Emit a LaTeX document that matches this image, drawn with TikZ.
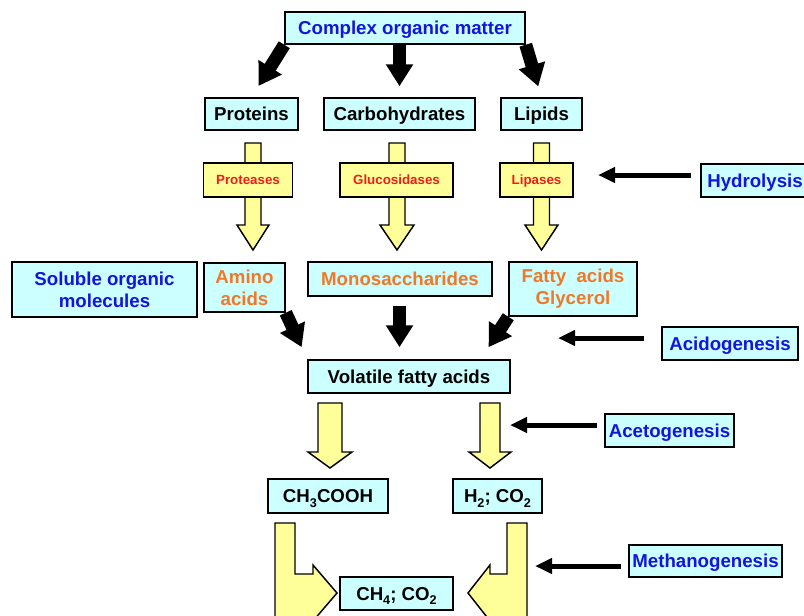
\documentclass[tikz,border=0pt]{standalone}
\usepackage{fontspec}
\setmainfont{Liberation Sans}
\usetikzlibrary{arrows.meta, backgrounds}

\definecolor{boxcyan}{RGB}{204,255,255}
\definecolor{blockyellow}{RGB}{255,255,153}
\definecolor{stageblue}{RGB}{20,20,220}
\definecolor{prodorange}{RGB}{240,120,40}
\definecolor{enzred}{RGB}{235,30,30}

% down-pointing block arrow: centre x, top, head base, tip, shaft half width, head half width
\newcommand{\downblock}[6]{%
  \draw[yblock] ({#1-#5},#2) -- ({#1+#5},#2) -- ({#1+#5},#3) -- ({#1+#6},#3)
    -- (#1,#4) -- ({#1-#6},#3) -- ({#1-#5},#3) -- cycle;}
% chemical subscript
\newcommand{\chemsub}[1]{\raisebox{-0.45ex}{\fontsize{9.5}{10}\selectfont #1}}

\begin{document}
\begin{tikzpicture}[
  x=0.75pt, y=-0.75pt,
  cell/.style={rectangle, draw=black, fill=boxcyan, line width=1.1pt, inner sep=0pt,
               font=\fontsize{14}{16.5}\selectfont\bfseries},
  compound/.style={cell, text height=10pt, text depth=0pt},
  stacked/.style={cell, align=center},
  enz/.style={rectangle, draw=black, fill=blockyellow, line width=1.1pt, inner sep=0pt,
              text height=7pt, text depth=0pt,
              text=enzred, font=\fontsize{10}{12}\selectfont\bfseries},
  wh/.style 2 args={minimum width=#1*0.75pt, minimum height=#2*0.75pt},
  yblock/.style={draw=black, fill=blockyellow, line width=1.1pt, line join=miter},
  flow/.style={line width=9.75pt, -{Triangle[length=16.5pt, width=19.5pt]}},
  stagearr/.style={line width=3.75pt, -{Triangle[length=12.75pt, width=11.25pt]}}
]
\useasboundingbox (0,0) rectangle (804,615);
\clip (0,0) rectangle (804,615);

% ---- Hydrolysis ----
\node[compound, wh={240}{32}, text=stageblue] (com) at (405,28) {Complex organic matter};
\node[compound, wh={93}{32}]  (prot) at (251.5,114) {Proteins};
\node[compound, wh={151}{32}] (carb) at (399.5,114) {Carbohydrates};
\node[compound, wh={81}{32}]  (lipd) at (541.5,114) {Lipids};

\downblock{253}{143}{225}{250}{8}{16}
\downblock{397}{143}{225}{250}{8}{17}
\downblock{541.5}{143}{225}{250}{8}{16.5}

\node[enz, wh={89}{34}]  (enz-p) at (248,180)   {Proteases};
\node[enz, wh={113}{34}] (enz-g) at (396.5,180) {Glucosidases};
\node[enz, wh={73}{34}]  (enz-l) at (536.5,180) {Lipases};

\node[compound, wh={108}{33}, text=stageblue] (hydro) at (755,180.5) {Hydrolysis};
\coordinate (hydro-tip) at (598,175);

% ---- Acidogenesis ----
\node[stacked, wh={185}{55}, text=stageblue]  (soluble) at (104.5,289.5) {Soluble organic\\molecules};
\node[stacked, wh={81}{49}, text=prodorange]  (amino) at (244.5,287.5) {Amino\\acids};
\node[compound, wh={184}{34}, text=prodorange] (mono)  at (400,279) {Monosaccharides};
\node[stacked, wh={128}{54}, text=prodorange] (fatty) at (573,289) {Fatty\ \ acids\\Glycerol};

\node[compound, wh={202}{33}] (vfa) at (409,376.5) {Volatile fatty acids};

\node[compound, wh={136}{33}, text=stageblue] (acido) at (730,343.5) {Acidogenesis};
\coordinate (acido-tip) at (558,338);

% ---- Acetogenesis ----
\downblock{330}{403}{452}{468}{12}{22}
\downblock{490}{403}{452}{468}{10}{21}

\node[compound, wh={120}{34}] (acetic) at (328,496)   {CH\chemsub{3}COOH};
\node[compound, wh={89}{34}]  (hydco)  at (497.5,496) {H\chemsub{2}; CO\chemsub{2}};

\node[compound, wh={129}{33}, text=stageblue] (aceto) at (669.5,430.5) {Acetogenesis};
\coordinate (aceto-tip) at (510,425);

% ---- Methanogenesis ----
\draw[yblock] (275,523) -- (295,523) -- (295,574) -- (313,574) -- (313,565) -- (337,593)
  -- (313,621) -- (313,625) -- (275,625) -- cycle;
\draw[yblock] (507,523) -- (527,523) -- (527,625) -- (490,625) -- (490,621) -- (468,593)
  -- (490,565) -- (490,574) -- (507,574) -- cycle;

\node[compound, wh={113}{33}] (methco) at (396.5,593.5) {CH\chemsub{4}; CO\chemsub{2}};

\node[compound, wh={153}{32}, text=stageblue] (methano) at (705.5,561) {Methanogenesis};
\coordinate (methano-tip) at (535,566);

% ---- arrows ----
\begin{scope}[on background layer]
  \draw[flow, shorten >=10pt] (com.south west) -- (prot.north);
  \draw[flow, shorten >=8.25pt] (com.south -| carb.north) -- (carb.north);
  \draw[flow, shorten >=8.5pt] (com.south east) -- (lipd.north);

  \draw[flow, shorten >=10pt] (amino.south east) -- (vfa.north west);
  \draw[flow, shorten <=6.75pt, shorten >=9pt] (mono.south -| carb.north) -- (vfa.north -| carb.north);
  \draw[flow, shorten >=10.8pt] (fatty.south west) -- ([xshift=-22.5pt]vfa.north east);
\end{scope}

\draw[stagearr, shorten <=6.75pt]  (hydro.west |- hydro-tip) -- (hydro-tip);
\draw[stagearr, shorten <=12.75pt] (acido.west |- acido-tip) -- (acido-tip);
\draw[stagearr, shorten <=5.25pt]  (aceto.west |- aceto-tip) -- (aceto-tip);
\draw[stagearr, shorten <=5.25pt]  (methano.west |- methano-tip) -- (methano-tip);

\end{tikzpicture}
\end{document}
